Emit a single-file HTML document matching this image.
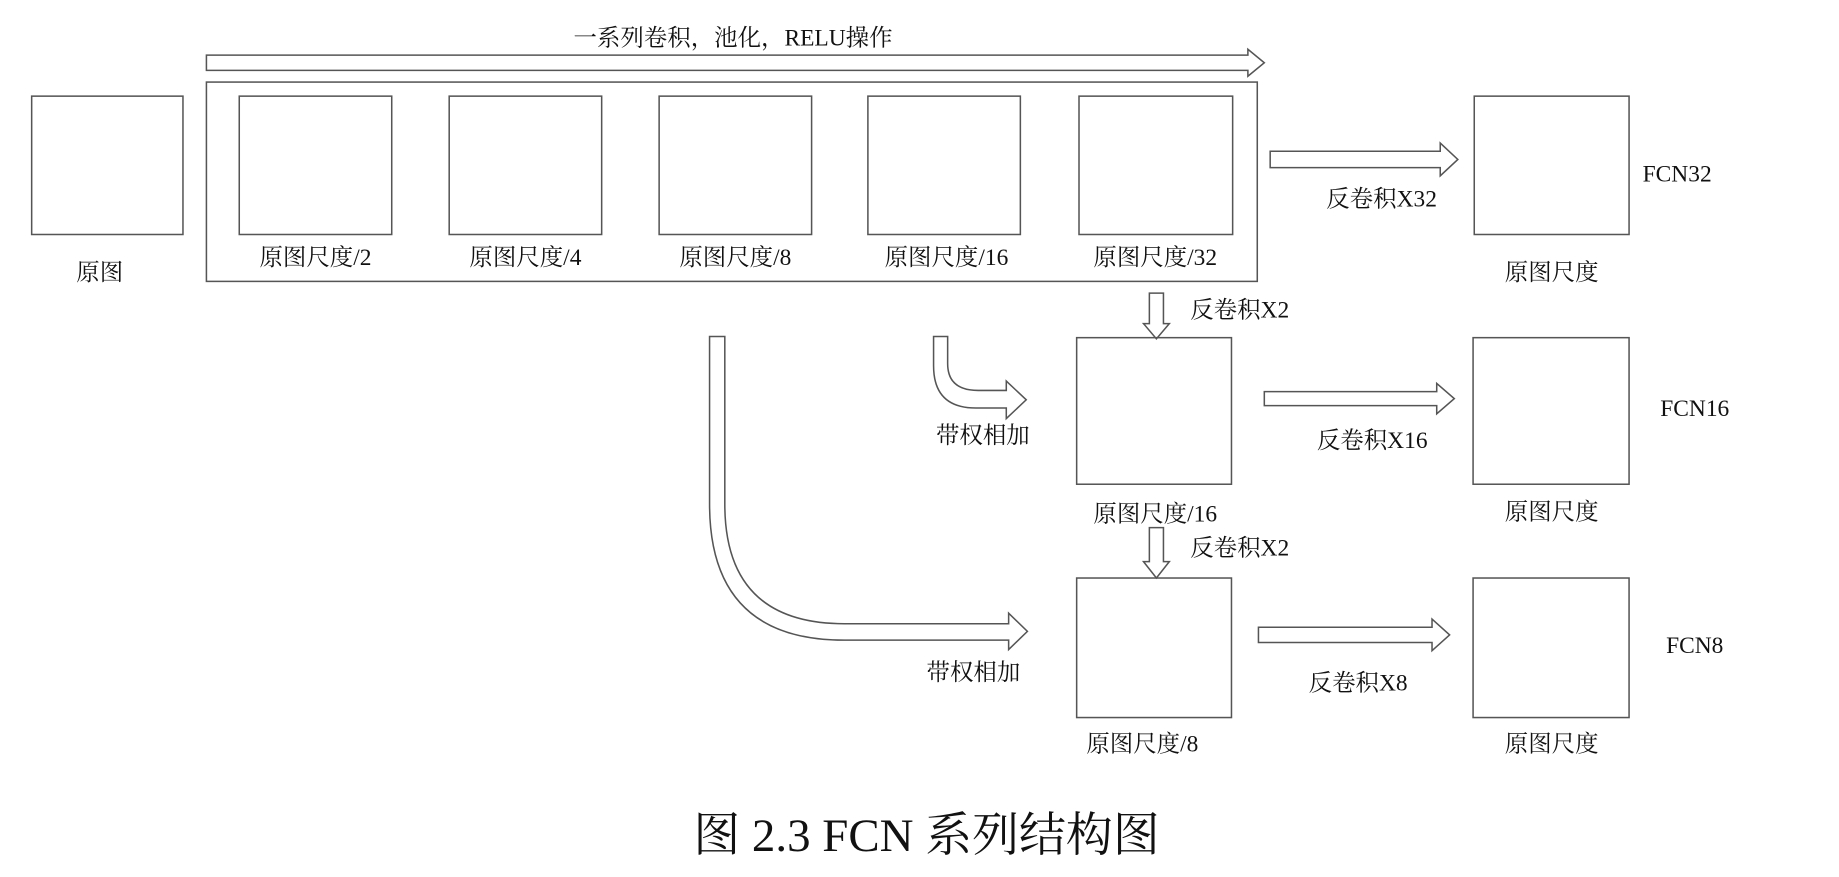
<!DOCTYPE html>
<html><head><meta charset="utf-8"><style>
html,body{margin:0;padding:0;background:#fff;}
svg{display:block;}
text{font-family:"Liberation Serif","Noto Serif CJK SC",serif;fill:#111;}
</style></head><body>
<svg width="1839" height="877" viewBox="0 0 1568 748" preserveAspectRatio="none" xmlns="http://www.w3.org/2000/svg">
<g fill="none" stroke="#555" stroke-width="1.3">
<polygon points="176,47 1064,47 1064,42 1078,53.5 1064,65 1064,60 176,60"/>
<rect x="176" y="70" width="896" height="170"/>
<rect x="27" y="82" width="129" height="118"/>
<rect x="204" y="82" width="130" height="118"/>
<rect x="383" y="82" width="130" height="118"/>
<rect x="562" y="82" width="130" height="118"/>
<rect x="740" y="82" width="130" height="118"/>
<rect x="920" y="82" width="131" height="118"/>
<rect x="1257" y="82" width="132" height="118"/>
<polygon points="1083,129 1228,129 1228,122 1243,136 1228,150 1228,143 1083,143"/>
<polygon points="980,250 980,276 975,276 986,289 997,276 992,276 992,250"/>
<rect x="918" y="288" width="132" height="125"/>
<rect x="1256" y="288" width="133" height="125"/>
<polygon points="1078,334 1225,334 1225,327 1240,340 1225,353 1225,346 1078,346"/>
<polygon points="980,450 980,479 975,479 986,493 997,479 992,479 992,450"/>
<rect x="918" y="493" width="132" height="119"/>
<rect x="1256" y="493" width="133" height="119"/>
<polygon points="1073,535 1221,535 1221,528 1236,541.5 1221,555 1221,548 1073,548"/>
<path d="M796,287 L796,312 Q796,348 832,348 L858,348 L858,357 L875,341 L858,325 L858,333 L834,333 Q808,333 808,310 L808,287 Z"/>
<path d="M605,287 L605,430 Q605,546 720,546 L860,546 L860,554 L876,538.5 L860,523 L860,532 L720,532 Q618,532 618,430 L618,287 Z"/>
</g>
<g font-size="20" text-anchor="middle">
<text x="625" y="39">一系列卷积，池化，RELU操作</text>
<text x="85" y="239">原图</text>
<text x="269" y="226">原图尺度/2</text>
<text x="448" y="226">原图尺度/4</text>
<text x="627" y="226">原图尺度/8</text>
<text x="807" y="226">原图尺度/16</text>
<text x="985" y="226">原图尺度/32</text>
<text x="1178" y="176">反卷积X32</text>
<text x="1323" y="239">原图尺度</text>
<text x="1430" y="155">FCN32</text>
<text x="1057" y="271">反卷积X2</text>
<text x="838" y="378">带权相加</text>
<text x="1170" y="382">反卷积X16</text>
<text x="1445" y="355">FCN16</text>
<text x="985" y="445">原图尺度/16</text>
<text x="1323" y="443">原图尺度</text>
<text x="1057" y="474">反卷积X2</text>
<text x="830" y="580">带权相加</text>
<text x="1158" y="589">反卷积X8</text>
<text x="1445" y="557">FCN8</text>
<text x="974" y="641">原图尺度/8</text>
<text x="1323" y="641">原图尺度</text>
<text x="790" y="726" font-size="40">图 2.3 FCN 系列结构图</text>
</g>
</svg>
</body></html>
